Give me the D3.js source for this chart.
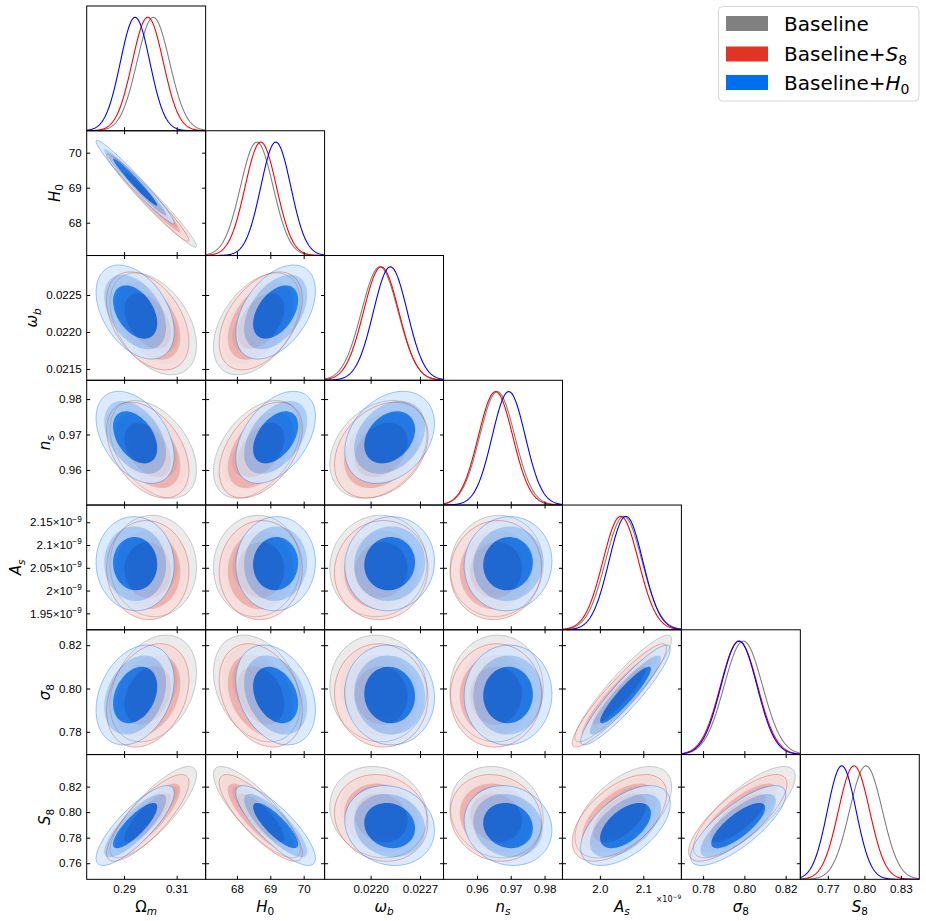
<!DOCTYPE html>
<html>
<head>
<meta charset="utf-8">
<script src="https://cdn.jsdelivr.net/npm/d3@7"></script>
<style>body{margin:0;background:#fff}</style>
</head>
<body>
<script>
// parameter order: Omega_m, H0, omega_b, n_s, A_s (1e-9), sigma_8, S_8
const ranges = [[0.2758, 0.3210], [67.063, 70.626], [0.021347, 0.023034], [0.9501, 0.9853],
                [1.9138, 2.1878], [0.7695, 0.8271], [0.7474, 0.8451]];
const xTicks = [[0.29, 0.31], [68, 69, 70], [0.0220, 0.0227], [0.96, 0.97, 0.98],
                [2.0, 2.1], [0.78, 0.80, 0.82], [0.77, 0.80, 0.83]];
const xTickLabels = [["0.29", "0.31"], ["68", "69", "70"], ["0.0220", "0.0227"], ["0.96", "0.97", "0.98"],
                     ["2.0", "2.1"], ["0.78", "0.80", "0.82"], ["0.77", "0.80", "0.83"]];
const yTicks = [[], [68, 69, 70], [0.0215, 0.0220, 0.0225], [0.96, 0.97, 0.98],
                [1.95, 2.0, 2.05, 2.1, 2.15], [0.78, 0.80, 0.82], [0.76, 0.78, 0.80, 0.82]];
const yTickLabels = [[], ["68", "69", "70"], ["0.0215", "0.0220", "0.0225"], ["0.96", "0.97", "0.98"],
                     ["1.95", "2", "2.05", "2.1", "2.15"], ["0.78", "0.80", "0.82"], ["0.76", "0.78", "0.80", "0.82"]];

const seriesNames = ["Baseline", "Baseline+S8", "Baseline+H0"];
// contour centres (2D)
const meanBase = [0.3011, 68.595, 0.02211, 0.9658, 2.054, 0.8000, 0.8000];
const meanS8   = [0.2990, 68.715, 0.02215, 0.9656, 2.045, 0.7968, 0.7955];
const meanH0   = [0.2942, 69.160, 0.02227, 0.9692, 2.059, 0.7970, 0.7895];
// peak positions of the 1D marginals
const peakBase = [0.3011, 68.595, 0.02213, 0.9660, 2.055, 0.7995, 0.8013];
const peakS8   = [0.2990, 68.715, 0.02215, 0.9655, 2.048, 0.7974, 0.7915];
const peakH0   = [0.2942, 69.165, 0.02228, 0.9694, 2.060, 0.7974, 0.7814];
// widths
const sigBase = [0.0062, 0.49, 0.00026, 0.0052, 0.042, 0.0093, 0.0135];
const sigS8   = [0.0059, 0.47, 0.00025, 0.0051, 0.041, 0.0090, 0.0128];
const sigH0   = [0.0056, 0.45, 0.00024, 0.0049, 0.039, 0.0087, 0.0118];
// correlations, row i has corr with params 0..i-1
const corrRows = [[], [-0.975], [-0.42, 0.45], [-0.42, 0.45, 0.30], [-0.03, 0.03, 0.05, 0.05],
                  [0.30, -0.30, -0.05, 0.02, 0.92], [0.82, -0.82, -0.12, -0.12, 0.55, 0.78]];
const levels = [2.65, 2.1, 1.5];

const axisLabels = [
  [{t: "Ω"}, {t: "m", it: 1, sub: 1}],
  [{t: "H", it: 1}, {t: "0", sub: 1}],
  [{t: "ω", it: 1}, {t: "b", it: 1, sub: 1}],
  [{t: "n", it: 1}, {t: "s", it: 1, sub: 1}],
  [{t: "A", it: 1}, {t: "s", it: 1, sub: 1}],
  [{t: "σ", it: 1}, {t: "8", sub: 1}],
  [{t: "S", it: 1}, {t: "8", sub: 1}]
];
const legendLabels = [
  [{t: "Baseline"}],
  [{t: "Baseline+"}, {t: "S", it: 1}, {t: "8", sub: 1}],
  [{t: "Baseline+"}, {t: "H", it: 1}, {t: "0", sub: 1}]
];

const datasets = [
  {mean: meanBase, peak: peakBase, sig: sigBase, fills: ["#ebebeb", "#cccccc", "#808080"], op: 1, edge: "#808080", line: "#808080", patch: "#808080"},
  {mean: meanS8, peak: peakS8, sig: sigS8, fills: ["#fadedc", "#f3aea8", "#e03424"], op: 0.85, edge: "#e03424", line: "#ff0000", patch: "#e03424"},
  {mean: meanH0, peak: peakH0, sig: sigH0, fills: ["#d6e8fc", "#99c5f8", "#006fed"], op: 0.85, edge: "#006fed", line: "#0000ff", patch: "#006fed"}
];

const n = ranges.length;
const X0 = 86.7, Y0 = 6, W = 118.94, H = 124.76, TL = 3.5;
const tickFont = 11.6, labelFont = 15;

const svg = d3.select("body").append("svg")
  .attr("width", 926).attr("height", 921)
  .attr("font-family", "DejaVu Sans, sans-serif");

const xs = ranges.map((r, j) => d3.scaleLinear().domain(r).range([X0 + j * W, X0 + (j + 1) * W]));
const ys = ranges.map((r, i) => d3.scaleLinear().domain(r).range([Y0 + (i + 1) * H, Y0 + i * H]));
const line = d3.line().curve(d3.curveLinearClosed);

function addParts(text, parts, size) {
  let shift = 0;
  parts.forEach(p => {
    const ts = text.append("tspan").text(p.t);
    if (p.it) ts.attr("font-style", "italic");
    const want = p.sub ? size * 0.22 : 0;
    if (want !== shift) { ts.attr("dy", want - shift); shift = want; }
    if (p.sub) ts.attr("font-size", size * 0.7);
  });
}

function ellipse(d, i, j, k) {
  const r = corrRows[i][j];
  const sx = d.sig[j], sy = d.sig[i];
  return d3.range(0, 360, 3).map(a => {
    const t = a * Math.PI / 180;
    return [xs[j](d.mean[j] + k * sx * Math.cos(t)),
            ys[i](d.mean[i] + k * sy * (r * Math.cos(t) + Math.sqrt(1 - r * r) * Math.sin(t)))];
  });
}

const defs = svg.append("defs");
const leftAxes = [];

for (let i = 0; i < n; i++) {
  for (let j = 0; j <= i; j++) {
    const x0 = X0 + j * W, y0 = Y0 + i * H;
    const id = `clip-${i}-${j}`;
    defs.append("clipPath").attr("id", id).append("rect")
      .attr("x", x0).attr("y", y0).attr("width", W).attr("height", H);
    const panel = svg.append("g").attr("clip-path", `url(#${id})`);

    if (i === j) {
      // 1D marginal
      const yy = d3.scaleLinear().domain([0, 1.1]).range([y0 + H, y0]);
      const grid = d3.range(0, 241).map(t => ranges[j][0] + (ranges[j][1] - ranges[j][0]) * t / 240);
      datasets.forEach(d => {
        panel.append("path")
          .attr("d", d3.line()(grid.map(v => [xs[j](v), yy(Math.exp(-0.5 * ((v - d.peak[j]) / d.sig[j]) ** 2))])))
          .attr("fill", "none").attr("stroke", d.line).attr("stroke-width", 1.1);
      });
      svg.append("g").attr("transform", `translate(0,${y0 + H})`)
        .call(d3.axisBottom(xs[j]).tickValues(xTicks[j]).tickSize(-TL).tickFormat(""))
        .call(g => g.select(".domain").remove());
    } else {
      datasets.forEach(d => {
        const g = panel.append("g").attr("opacity", d.op);
        levels.forEach((k, li) => g.append("path").attr("d", line(ellipse(d, i, j, k))).attr("fill", d.fills[li]));
      });
      datasets.forEach(d => {
        panel.append("path").attr("d", line(ellipse(d, i, j, levels[0])))
          .attr("fill", "none").attr("stroke", d.edge).attr("stroke-width", 0.7).attr("stroke-opacity", 0.55);
      });
      const tick = (axis, tx, ty) => svg.append("g").attr("transform", `translate(${tx},${ty})`)
        .call(axis.tickSize(-TL).tickFormat(""))
        .call(g => g.select(".domain").remove());
      tick(d3.axisBottom(xs[j]).tickValues(xTicks[j]), 0, y0 + H);
      tick(d3.axisTop(xs[j]).tickValues(xTicks[j]), 0, y0);
      tick(d3.axisLeft(ys[i]).tickValues(yTicks[i]), x0, 0);
      tick(d3.axisRight(ys[i]).tickValues(yTicks[i]), x0 + W, 0);
    }

    svg.append("rect").attr("x", x0).attr("y", y0).attr("width", W).attr("height", H)
      .attr("fill", "none").attr("stroke", "#000").attr("stroke-width", 1);

    // tick labels on the outer edges
    if (j === 0 && i > 0) {
      const ax = svg.append("g").attr("transform", `translate(${x0},0)`)
        .call(d3.axisLeft(ys[i]).tickValues(yTicks[i]).tickSize(0).tickPadding(5)
          .tickFormat((v, k) => yTickLabels[i][k]))
        .call(g => g.select(".domain").remove());
      ax.selectAll("text").attr("font-size", tickFont).attr("font-family", null).attr("fill", "#000");
      if (i === 4) {
        ax.selectAll("text").each(function (v, k) {
          const s = d3.select(this).text(null);
          s.append("tspan").text(yTickLabels[i][k] + "×10");
          s.append("tspan").attr("dy", -4.8).attr("font-size", 8.2).text("−9");
        });
      }
      leftAxes[i] = ax;
    }
    if (i === n - 1) {
      const ax = svg.append("g").attr("transform", `translate(0,${y0 + H})`)
        .call(d3.axisBottom(xs[j]).tickValues(xTicks[j]).tickSize(0).tickPadding(5.3)
          .tickFormat((v, k) => xTickLabels[j][k]))
        .call(g => g.select(".domain").remove());
      ax.selectAll("text").attr("font-size", tickFont).attr("font-family", null).attr("fill", "#000");
    }
  }
}

// offset text for A_s
svg.append("text").attr("x", X0 + 5 * W).attr("y", 902).attr("text-anchor", "end")
  .attr("font-size", 8).text("×10")
  .append("tspan").attr("dy", -3.5).attr("font-size", 6).text("−9");

// x axis labels
for (let j = 0; j < n; j++) {
  const t = svg.append("text").attr("x", X0 + (j + 0.5) * W).attr("y", 911.5)
    .attr("text-anchor", "middle").attr("font-size", labelFont);
  addParts(t, axisLabels[j], labelFont);
}

// y axis labels, placed just left of the widest tick label
for (let i = 1; i < n; i++) {
  const minLeft = d3.min(leftAxes[i].selectAll("text").nodes(), t => t.getBoundingClientRect().left);
  const yc = Y0 + (i + 0.5) * H;
  const g = svg.append("g");
  const t = g.append("text").attr("text-anchor", "middle").attr("font-size", labelFont);
  addParts(t, axisLabels[i], labelFont);
  const bb = t.node().getBBox();
  g.attr("transform", `translate(${minLeft - 3.5 - (bb.y + bb.height)},${yc}) rotate(-90)`);
}

// legend
const leg = svg.append("g");
leg.append("rect").attr("x", 718.5).attr("y", 6.5).attr("width", 200.5).attr("height", 94.5)
  .attr("rx", 4).attr("fill", "#fff").attr("fill-opacity", 0.8).attr("stroke", "#d6d6d6");
const legY = [23.5, 54, 82.5];
seriesNames.forEach((name, k) => {
  leg.append("rect").attr("x", 726).attr("y", legY[k] - 7.5).attr("width", 42).attr("height", 15)
    .attr("fill", datasets[k].patch);
  const t = leg.append("text").attr("x", 784).attr("y", legY[k] + 7).attr("font-size", 20);
  addParts(t, legendLabels[k], 20);
});
</script>
</body>
</html>
